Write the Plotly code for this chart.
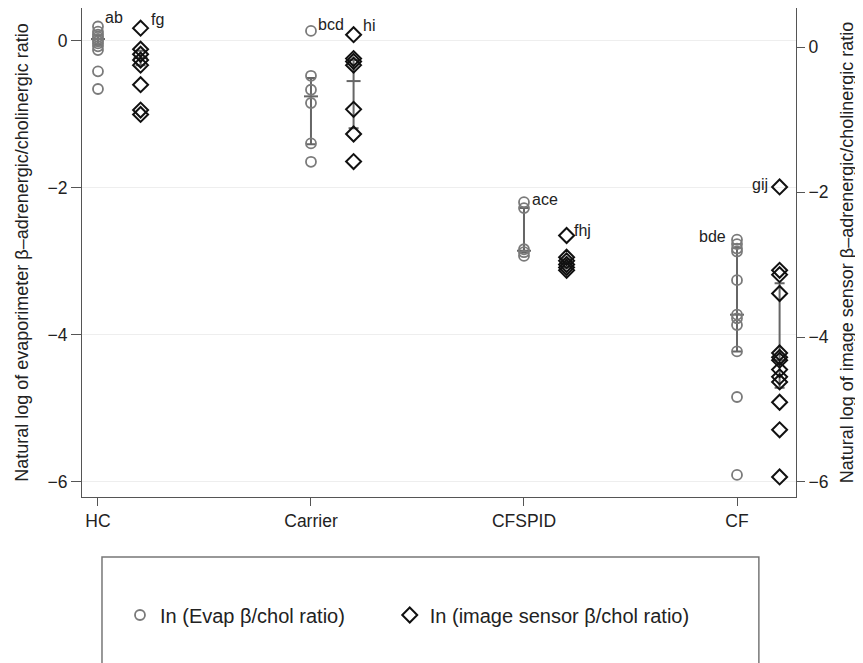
import plotly.graph_objects as go

categories = ["HC", "Carrier", "CFSPID", "CF"]
cat_pos = [1, 2, 3, 4]
image_offset = 0.2

# ln(Evap beta/chol ratio) per group (left axis)
evap_hc = [0.19, 0.12, 0.08, 0.05, 0.02, -0.01, -0.04, -0.08, -0.13, -0.42, -0.66]
evap_carrier = [0.13, -0.48, -0.67, -0.85, -1.40, -1.65]
evap_cfspid = [-2.20, -2.28, -2.84, -2.88, -2.93]
evap_cf = [-2.71, -2.77, -2.83, -2.87, -3.26, -3.73, -3.78, -3.87, -4.23, -4.85, -5.91]

# ln(image sensor beta/chol ratio) per group (right axis)
img_hc = [0.26, -0.03, -0.10, -0.18, -0.25, -0.52, -0.87, -0.93]
img_carrier = [0.17, -0.16, -0.20, -0.25, -0.86, -1.20, -1.58]
img_cfspid = [-2.60, -2.90, -2.95, -3.00, -3.04, -3.08]
img_cf = [-1.93, -3.08, -3.14, -3.40, -4.22, -4.28, -4.32, -4.45, -4.55, -4.62, -4.90, -5.28, -5.93]

# summary bars: middle, lower, upper
evap_mid = [0.02, -0.76, -2.86, -3.73]
evap_lo = [-0.06, -1.41, -2.88, -4.23]
evap_hi = [0.07, -0.51, -2.28, -2.82]
img_mid = [-0.15, -0.47, -2.98, -4.32]
img_lo = [-0.25, -1.12, -3.04, -4.70]
img_hi = [-0.05, -0.18, -2.93, -3.26]

# significance letters
evap_letters = ["ab", "bcd", "ace", "bde"]
img_letters = ["fg", "hi", "fhj", "gij"]

evap_groups = [evap_hc, evap_carrier, evap_cfspid, evap_cf]
img_groups = [img_hc, img_carrier, img_cfspid, img_cf]

FONT = "Liberation Sans, Arial, Helvetica, sans-serif"
GRAY = "#7a7a7a"
BAR = "#666666"

fig = go.Figure()

# summary bars
fig.add_trace(go.Scatter(
    x=cat_pos, y=evap_mid, mode="markers", showlegend=False, hoverinfo="skip",
    marker=dict(symbol="line-ew", size=10, line=dict(width=2, color=BAR)),
    error_y=dict(type="data", symmetric=False,
                 array=[h - m for h, m in zip(evap_hi, evap_mid)],
                 arrayminus=[m - l for m, l in zip(evap_mid, evap_lo)],
                 color=BAR, thickness=2, width=5),
))
fig.add_trace(go.Scatter(
    x=[p + image_offset for p in cat_pos], y=img_mid, yaxis="y2", mode="markers",
    showlegend=False, hoverinfo="skip",
    marker=dict(symbol="line-ew", size=10, line=dict(width=2, color=BAR)),
    error_y=dict(type="data", symmetric=False,
                 array=[h - m for h, m in zip(img_hi, img_mid)],
                 arrayminus=[m - l for m, l in zip(img_mid, img_lo)],
                 color=BAR, thickness=2, width=5),
))

ex, ey = [], []
for p, g in zip(cat_pos, evap_groups):
    ex += [p] * len(g)
    ey += g
ix, iy = [], []
for p, g in zip(cat_pos, img_groups):
    ix += [p + image_offset] * len(g)
    iy += g

fig.add_trace(go.Scatter(
    x=ex, y=ey, mode="markers", name="In (Evap β/chol ratio)", legend="legend",
    marker=dict(symbol="circle-open", size=10, color=GRAY, line=dict(width=1.8, color=GRAY)),
))
fig.add_trace(go.Scatter(
    x=ix, y=iy, yaxis="y2", mode="markers", name="In (image sensor β/chol ratio)", legend="legend2",
    marker=dict(symbol="diamond-open", size=11.5, color="#111111", line=dict(width=2, color="#111111")),
))

# letters
ann = []
evap_shift = [(5, 9, "left"), (5, 6, "left"), (6, 3, "left"), (-9, 3, "right")]
img_shift = [(8, 9, "left"), (7, 9, "left"), (5, 5, "left"), (-10, 2, "right")]
for p, g, t, (dx, dy, xa) in zip(cat_pos, evap_groups, evap_letters, evap_shift):
    ann.append(dict(x=p, y=max(g), xref="x", yref="y", text=t, showarrow=False,
                    xanchor=xa, yanchor="middle", xshift=dx, yshift=dy,
                    font=dict(size=16, color="#222", family=FONT)))
for p, g, t, (dx, dy, xa) in zip(cat_pos, img_groups, img_letters, img_shift):
    ann.append(dict(x=p + image_offset, y=max(g), xref="x", yref="y2", text=t, showarrow=False,
                    xanchor=xa, yanchor="middle", xshift=dx, yshift=dy,
                    font=dict(size=16, color="#222", family=FONT)))

fig.update_layout(
    width=863, height=663,
    margin=dict(l=74, r=75, t=0, b=174, autoexpand=False),
    paper_bgcolor="white", plot_bgcolor="white",
    font=dict(family=FONT, size=17, color="#222"),
    annotations=ann,
    xaxis=dict(range=[0.925, 4.277], tickmode="array", tickvals=cat_pos, ticktext=categories,
               showline=True, linecolor="#555", linewidth=1.2, ticks="outside", ticklen=8,
               tickcolor="#555", showgrid=False, zeroline=False, tickfont=dict(size=17.5),
               automargin=False),
    yaxis=dict(range=[-6.21, 0.442], tickvals=[0, -2, -4, -6], showline=True, linecolor="#555",
               linewidth=1.2, ticks="outside", ticklen=10, tickcolor="#555",
               showgrid=True, gridcolor="#eeeeee", gridwidth=1, zeroline=False,
               tickfont=dict(size=17.5), automargin=False,
               title=dict(text="Natural log of evaporimeter β–adrenergic/cholinergic ratio",
                          font=dict(size=18), standoff=14)),
    yaxis2=dict(range=[-6.207, 0.538], tickvals=[0, -2, -4, -6], overlaying="y", side="right",
                showline=True, linecolor="#555", linewidth=1.2, ticks="outside", ticklen=8,
                tickcolor="#555", showgrid=False, zeroline=False, tickfont=dict(size=17.5),
                automargin=False,
                title=dict(text="Natural log of image sensor β–adrenergic/cholinergic ratio",
                           font=dict(size=18), standoff=12)),
    legend=dict(x=0.0532, y=-0.2413, xanchor="left", yanchor="middle", orientation="h",
                bgcolor="rgba(0,0,0,0)", font=dict(size=20)),
    legend2=dict(x=0.431, y=-0.2413, xanchor="left", yanchor="middle", orientation="h",
                 bgcolor="rgba(0,0,0,0)", font=dict(size=20)),
    shapes=[dict(type="rect", xref="paper", yref="paper", x0=0.028, x1=0.948, y0=-0.1227, y1=-0.40,
                 line=dict(color="#777", width=1.5), fillcolor="rgba(0,0,0,0)", layer="below")],
)

fig.write_html("out.html")
